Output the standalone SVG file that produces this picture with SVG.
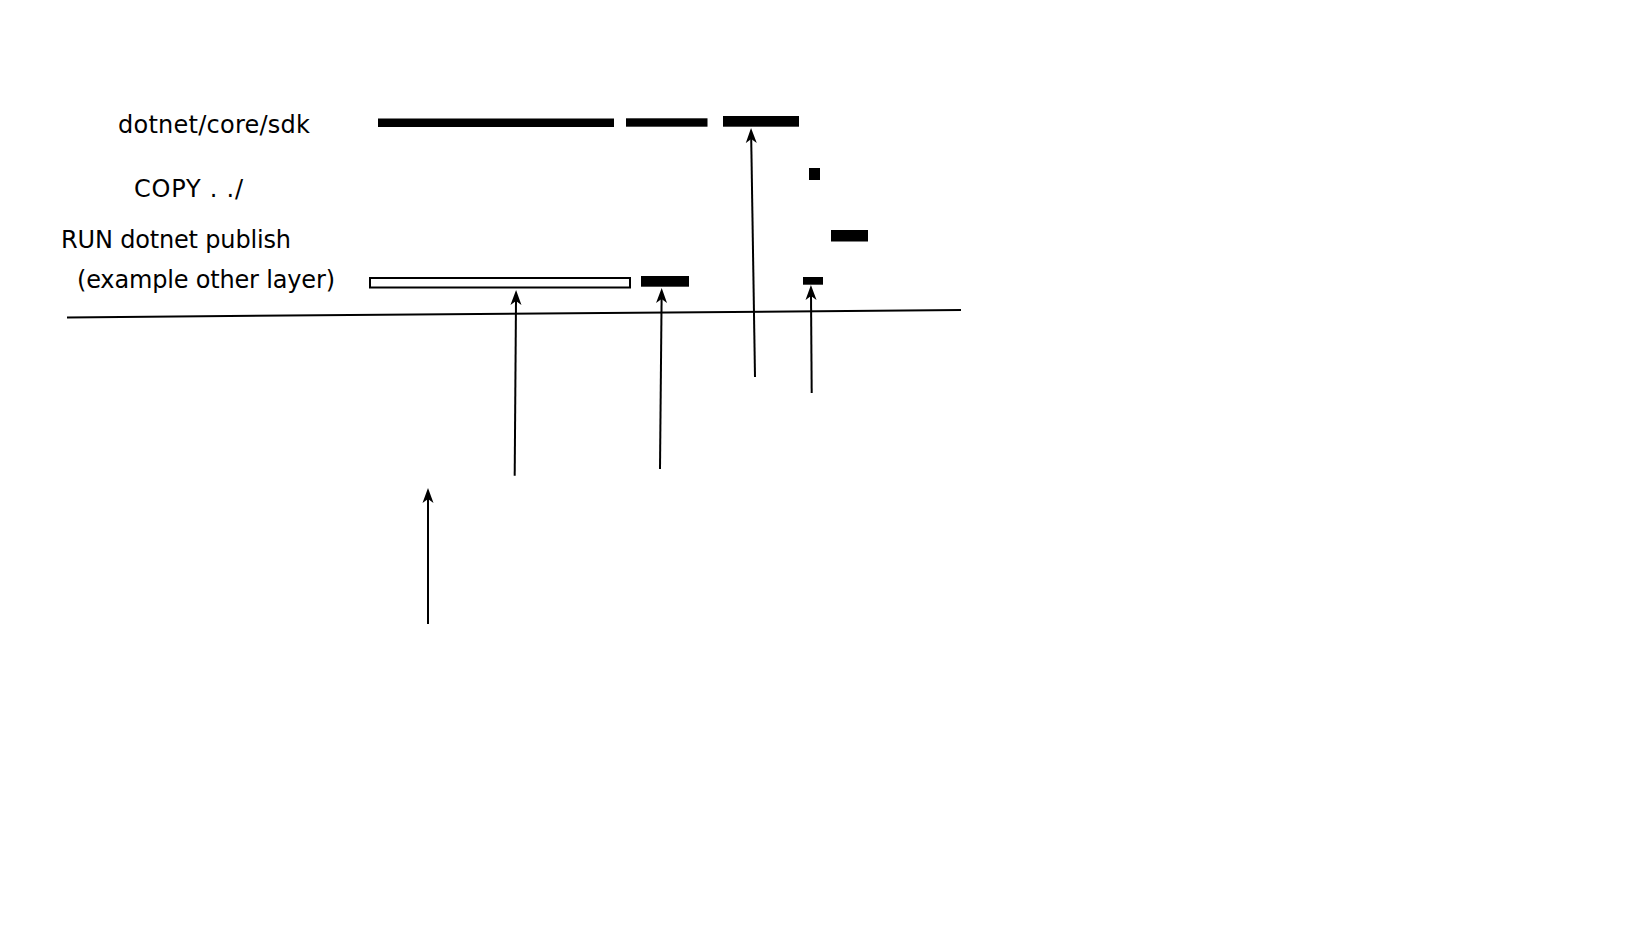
<svg xmlns="http://www.w3.org/2000/svg" width="1648" height="927" viewBox="0 0 1648 927">
<style>
.lbl{font-family:"DejaVu Sans",Verdana,sans-serif;font-size:24px;fill:#000}
.bar{fill:#000}
.ln{stroke:#000;stroke-width:2;fill:none}
</style>
<defs>
<marker id="ah" markerUnits="userSpaceOnUse" markerWidth="16" markerHeight="12" viewBox="0 0 16 12" refX="5" refY="6" orient="auto">
<path d="M0,0.5 L15,6 L0,11.5 L4,6 Z" fill="#000"/>
</marker>
</defs>
<rect width="1648" height="927" fill="#fff"/>
<g id="labels">
<text class="lbl" x="118" y="133" textLength="192" lengthAdjust="spacing">dotnet/core/sdk</text>
<text class="lbl" x="134" y="197" textLength="109" lengthAdjust="spacing">COPY . ./</text>
<text class="lbl" x="61" y="248" textLength="230" lengthAdjust="spacing">RUN dotnet publish</text>
<text class="lbl" x="77" y="288" textLength="258" lengthAdjust="spacing">(example other layer)</text>
</g>
<g id="sdk-layers">
<rect class="bar" x="378" y="118.5" width="236" height="8.5"/>
<rect class="bar" x="626" y="118.3" width="81.5" height="8.4"/>
<rect class="bar" x="723" y="116" width="76" height="10.7"/>
</g>
<g id="copy-layer">
<rect class="bar" x="809" y="168" width="11" height="12"/>
</g>
<g id="run-layer">
<rect class="bar" x="831" y="230" width="37" height="11.5"/>
</g>
<g id="other-layers">
<rect x="370" y="278" width="260" height="9.5" fill="#fff" stroke="#000" stroke-width="2"/>
<rect class="bar" x="641" y="276" width="48" height="10.7"/>
<rect class="bar" x="803" y="277" width="20" height="7.7"/>
</g>
<g id="connectors">
<line class="ln" x1="67" y1="317.4" x2="961" y2="310"/>
<line class="ln" x1="755" y1="377" x2="751.2" y2="138" marker-end="url(#ah)"/>
<line class="ln" x1="811.7" y1="393" x2="811" y2="295" marker-end="url(#ah)"/>
<line class="ln" x1="660" y1="469" x2="661.6" y2="298" marker-end="url(#ah)"/>
<line class="ln" x1="514.7" y1="475.7" x2="516" y2="300" marker-end="url(#ah)"/>
<line class="ln" x1="428" y1="624" x2="428" y2="498" marker-end="url(#ah)"/>
</g>
</svg>
